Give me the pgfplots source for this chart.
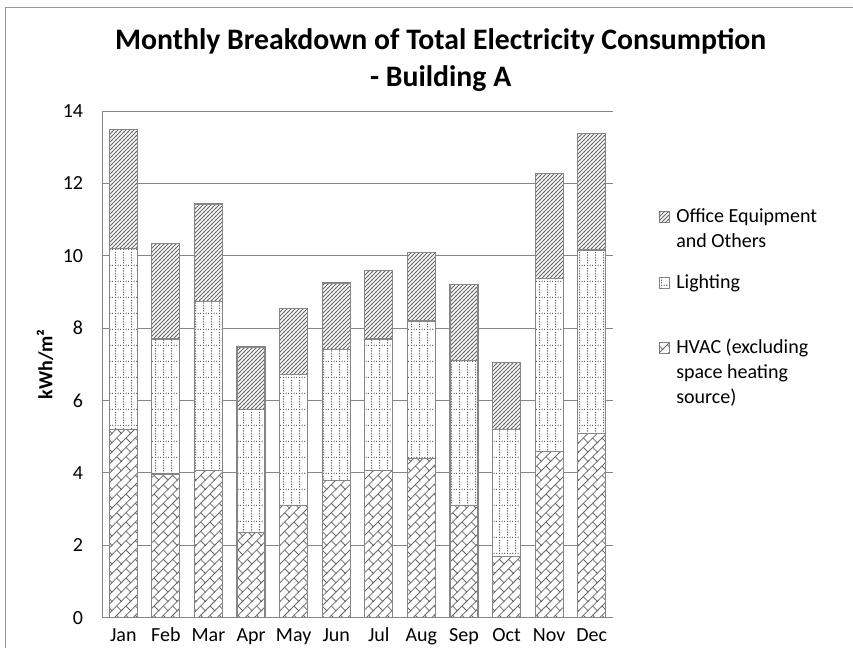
\documentclass[border=0pt]{standalone}
\usepackage{fontspec}
\setmainfont{Carlito}
\usepackage{pgfplots}
\pgfplotsset{compat=1.18}
\usetikzlibrary{patterns}

\definecolor{linegray}{RGB}{134,134,134}
\definecolor{patgray}{RGB}{105,105,105}
\definecolor{bordergray}{RGB}{150,150,150}

% diagonal brick (HVAC)
\pgfdeclarepatternformonly{diagbrick}{\pgfqpoint{-1pt}{-1pt}}{\pgfqpoint{8pt}{8pt}}{\pgfqpoint{7pt}{7pt}}{%
  \pgfsetlinewidth{0.55pt}%
  \pgfpathmoveto{\pgfqpoint{-0.5pt}{-0.5pt}}\pgfpathlineto{\pgfqpoint{7.5pt}{7.5pt}}%
  \pgfpathmoveto{\pgfqpoint{3.5pt}{3.5pt}}\pgfpathlineto{\pgfqpoint{7pt}{0pt}}%
  \pgfusepath{stroke}}
% dotted grid (Lighting)
\pgfdeclarepatternformonly{dotgrid}{\pgfqpoint{0pt}{0pt}}{\pgfqpoint{6.2pt}{11.8pt}}{\pgfqpoint{6.2pt}{11.8pt}}{%
  \pgfpathrectangle{\pgfqpoint{0pt}{0pt}}{\pgfqpoint{0.9pt}{0.9pt}}%
  \pgfpathrectangle{\pgfqpoint{2.07pt}{0pt}}{\pgfqpoint{0.9pt}{0.9pt}}%
  \pgfpathrectangle{\pgfqpoint{4.13pt}{0pt}}{\pgfqpoint{0.9pt}{0.9pt}}%
  \pgfpathrectangle{\pgfqpoint{0pt}{1.97pt}}{\pgfqpoint{0.9pt}{0.9pt}}%
  \pgfpathrectangle{\pgfqpoint{0pt}{3.93pt}}{\pgfqpoint{0.9pt}{0.9pt}}%
  \pgfpathrectangle{\pgfqpoint{0pt}{5.9pt}}{\pgfqpoint{0.9pt}{0.9pt}}%
  \pgfpathrectangle{\pgfqpoint{0pt}{7.87pt}}{\pgfqpoint{0.9pt}{0.9pt}}%
  \pgfpathrectangle{\pgfqpoint{0pt}{9.83pt}}{\pgfqpoint{0.9pt}{0.9pt}}%
  \pgfusepath{fill}}
% wide upward diagonal (Office)
\pgfdeclarepatternformonly{updiag}{\pgfqpoint{-1pt}{-1pt}}{\pgfqpoint{4pt}{4pt}}{\pgfqpoint{3pt}{3pt}}{%
  \pgfsetlinewidth{0.55pt}%
  \pgfpathmoveto{\pgfqpoint{-0.5pt}{-0.5pt}}\pgfpathlineto{\pgfqpoint{3.5pt}{3.5pt}}%
  \pgfusepath{stroke}}

\pgfplotstableread{
x hvac light office
0  5.20 5.00 3.30
1  3.97 3.73 2.65
2  4.06 4.67 2.70
3  2.35 3.41 1.72
4  3.10 3.62 1.82
5  3.80 3.61 1.84
6  4.06 3.64 1.90
7  4.40 3.80 1.89
8  3.09 4.02 2.10
9  1.69 3.51 1.86
10 4.59 4.78 2.90
11 5.09 5.07 3.23
}\datatable

\begin{document}
\begin{tikzpicture}
\useasboundingbox (0,0) rectangle (639.75pt,486pt);
\draw[bordergray, line width=0.75pt] (3.75pt,480pt) rectangle (700pt,-50pt);

\begin{axis}[
  at={(76.5pt,22.7pt)}, anchor=south west,
  scale only axis, width=383.25pt, height=380pt,
  ybar stacked, bar width=21pt,
  xmin=-0.5, xmax=11.5, ymin=0, ymax=14,
  xtick={0,...,11},
  xticklabels={Jan,Feb,Mar,Apr,May,Jun,Jul,Aug,Sep,Oct,Nov,Dec},
  ytick={0,2,...,14},
  ymajorgrids, grid style={linegray, line width=0.75pt},
  axis lines*=left,
  axis line style={linegray, line width=0.75pt, -},
  major tick length=0pt,
  /pgf/number format/assume math mode=true,
  tick label style={font=\fontsize{15}{18}\selectfont},
  yticklabel style={anchor=east, inner sep=0pt, xshift=-14pt},
  xticklabel style={anchor=base, inner sep=0pt, yshift=-18.2pt},
  ylabel={kWh/m²},
  ylabel style={font=\bfseries\fontsize{15}{18}\selectfont, at={(axis description cs:-0.1115,0.5)}, anchor=center},
  every axis plot/.append style={fill=white, draw=linegray, line width=0.9pt},
]
\addplot[postaction={pattern=diagbrick, pattern color=patgray}] table[x=x, y=hvac] {\datatable};
\addplot[postaction={pattern=dotgrid, pattern color=patgray}] table[x=x, y=light] {\datatable};
\addplot[postaction={pattern=updiag, pattern color=patgray}] table[x=x, y=office] {\datatable};
\end{axis}

% legend
\begin{scope}[every node/.style={anchor=base west, inner sep=0pt, font=\fontsize{15}{18.75}\selectfont}]
\draw[linegray, line width=0.6pt, fill=white, postaction={pattern=updiag, pattern color=patgray}] (494.25pt,319.3pt) rectangle +(7.5pt,7.8pt);
\node at (507pt,319.1pt) {Office Equipment};
\node at (507pt,300.35pt) {and Others};
\draw[linegray, line width=0.6pt, fill=white, postaction={pattern=dotgrid, pattern color=patgray}] (494.25pt,269.8pt) rectangle +(7.5pt,7.8pt);
\node at (507pt,269.6pt) {Lighting};
\draw[linegray, line width=0.6pt, fill=white, postaction={pattern=diagbrick, pattern color=patgray}] (494.25pt,221.1pt) rectangle +(7.5pt,7.8pt);
\node at (507pt,220.9pt) {HVAC (excluding};
\node at (507pt,202.15pt) {space heating};
\node at (507pt,183.4pt) {source)};
\end{scope}

\node[anchor=base, font=\bfseries\fontsize{22.3}{26}\selectfont] at (330.5pt,448.5pt) {Monthly Breakdown of Total Electricity Consumption};
\node[anchor=base, font=\bfseries\fontsize{22.3}{26}\selectfont] at (330.5pt,420.8pt) {- Building A};
\end{tikzpicture}
\end{document}
